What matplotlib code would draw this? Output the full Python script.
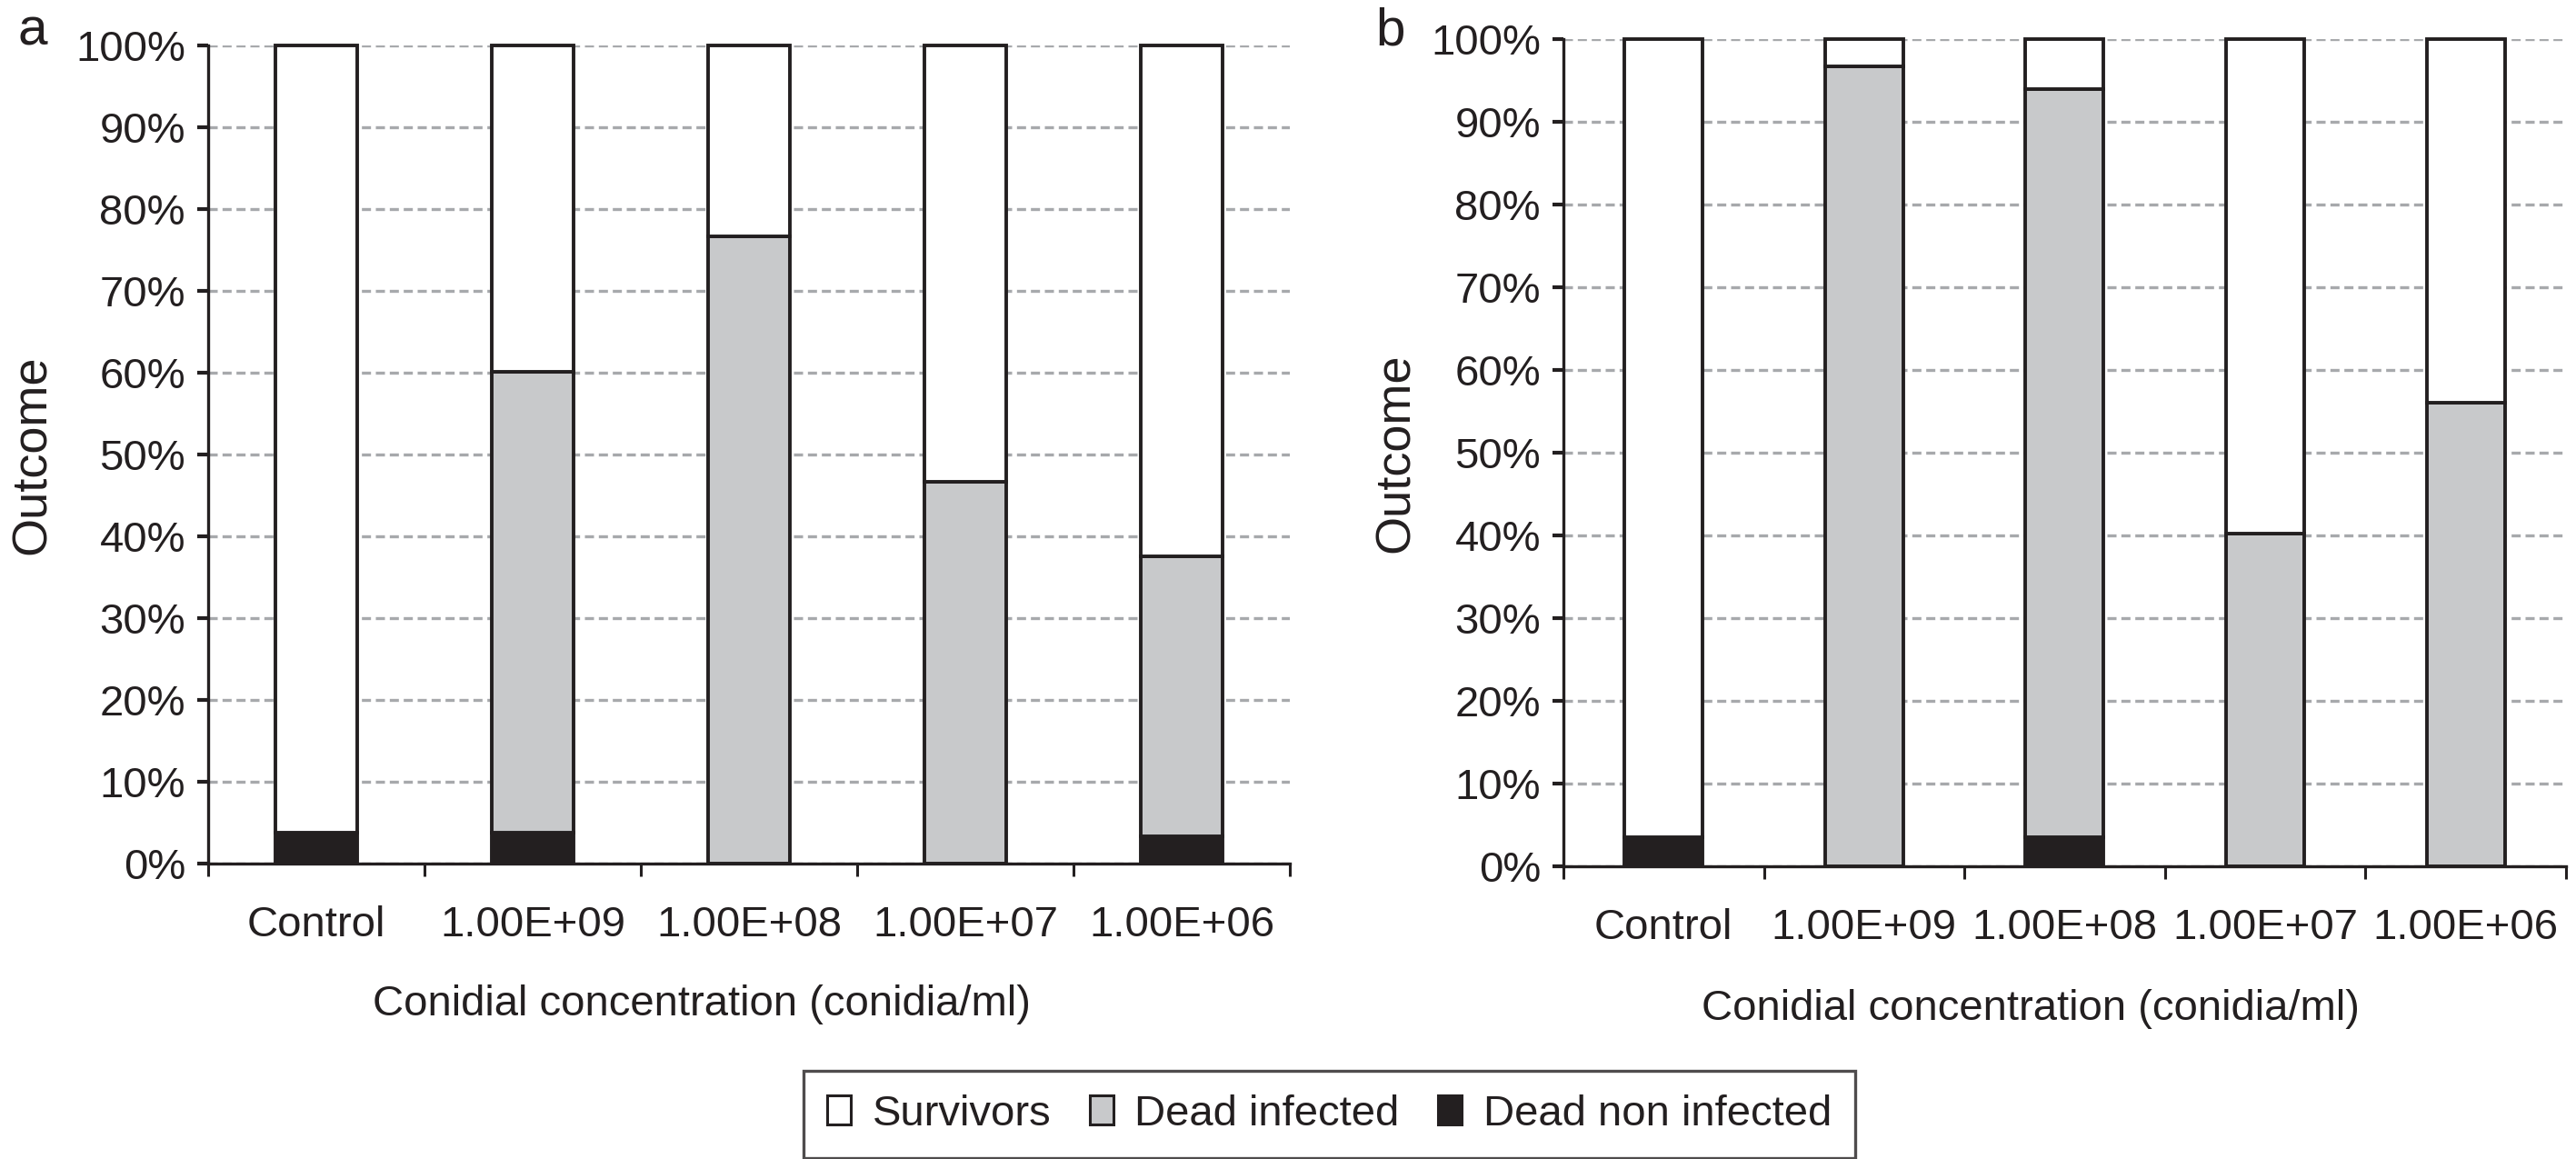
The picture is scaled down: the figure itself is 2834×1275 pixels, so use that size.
import numpy as np
from matplotlib import pyplot as plt
from matplotlib.patches import Patch

plt.rcParams['font.family'] = ['Liberation Sans', 'DejaVu Sans']

categories = ["Control", "1.00E+09", "1.00E+08", "1.00E+07", "1.00E+06"]

# panel a (% of insects)
a_dead_non = [3.8, 3.8, 0.0, 0.0, 3.3]
a_dead_inf = [0.0, 56.3, 76.7, 46.7, 34.2]
# panel b
b_dead_non = [3.5, 0.0, 3.5, 0.0, 0.0]
b_dead_inf = [0.0, 96.7, 90.4, 40.2, 56.0]

legend_labels = ["Survivors", "Dead infected", "Dead non infected"]

ink = '#231f20'
grey = '#c8c9cb'
gridc = '#a7a9ac'
fs = 34


def draw_panel(ax, dead_non, dead_inf, width, letter, letter_x, xlab_x, ylab_x):
    dead_non = np.array(dead_non)
    dead_inf = np.array(dead_inf)
    surv = 100 - dead_non - dead_inf
    x = np.arange(len(categories))
    kw = dict(width=width, edgecolor=ink, linewidth=2.8, clip_on=False, zorder=3)
    ax.bar(x, dead_non, color=ink, **kw)
    ax.bar(x, dead_inf, bottom=dead_non, color=grey, **kw)
    ax.bar(x, surv, bottom=dead_non + dead_inf, color='white', **kw)

    ax.set_xlim(-0.5, len(categories) - 0.5)
    ax.set_ylim(0, 100)
    ax.set_yticks(np.arange(0, 101, 10))
    ax.set_yticklabels(["%d%%" % v for v in range(0, 101, 10)])
    ax.set_xticks(x)
    ax.set_xticklabels(categories)
    ax.set_xticks(np.arange(-0.5, len(categories)), minor=True)

    ax.yaxis.grid(True, color=gridc, linewidth=2.4, dashes=(3, 1.6))
    ax.set_axisbelow(True)
    for s in ['top', 'right']:
        ax.spines[s].set_visible(False)
    for s in ['left', 'bottom']:
        ax.spines[s].set_linewidth(2.4)
        ax.spines[s].set_color(ink)
        ax.spines[s].set_zorder(4)

    ax.tick_params(axis='y', length=9, width=3, pad=9, labelsize=fs, colors=ink)
    ax.tick_params(axis='x', which='major', length=0, pad=33, labelsize=fs, colors=ink)
    ax.tick_params(axis='x', which='minor', length=10, width=2.2, direction='out', color=ink)

    ax.set_xlabel("Conidial concentration (conidia/ml)", fontsize=fs, color=ink)
    ax.xaxis.set_label_coords(xlab_x, -0.148)
    ax.set_ylabel("Outcome", fontsize=39, color=ink)
    ax.yaxis.set_label_coords(ylab_x, 0.5)

    fig.text(letter_x, 0.9608, letter, fontsize=42, color=ink, va='baseline')


fig = plt.figure(figsize=(28.34, 12.75), dpi=100)
ax_a = fig.add_axes([0.0808, 0.2549, 0.4199, 0.7059])
ax_b = fig.add_axes([0.6069, 0.2525, 0.3892, 0.7138])

draw_panel(ax_a, a_dead_non, a_dead_inf, 0.38, "a", 0.007, 0.456, -0.141)
draw_panel(ax_b, b_dead_non, b_dead_inf, 0.39, "b", 0.534, 0.466, -0.144)

handles = [Patch(facecolor='white', edgecolor=ink, linewidth=2.2),
           Patch(facecolor=grey, edgecolor=ink, linewidth=2.2),
           Patch(facecolor=ink, edgecolor=ink, linewidth=2.2)]
leg = fig.legend(handles, legend_labels, loc='center', bbox_to_anchor=(0.516, 0.0388),
                 ncol=3, fontsize=fs, frameon=True, fancybox=False,
                 handlelength=0.55, handleheight=0.65, handletextpad=0.5,
                 columnspacing=0.9, borderpad=0.55)
leg.get_frame().set_edgecolor(ink)
leg.get_frame().set_linewidth(2.4)
for t in leg.get_texts():
    t.set_color(ink)

fig.savefig("out.png", dpi=100)
